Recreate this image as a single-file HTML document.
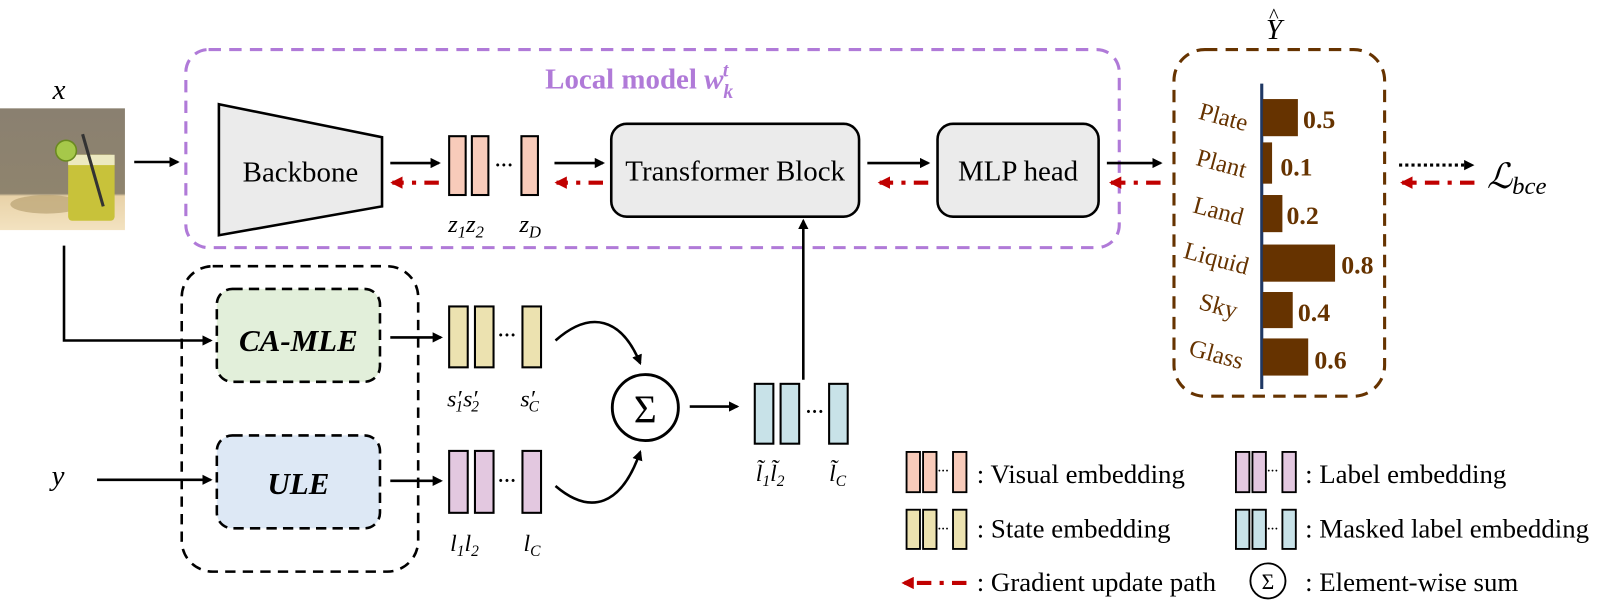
<!DOCTYPE html>
<html><head><meta charset="utf-8"><style>
html,body{margin:0;padding:0;background:#fff;}
svg{display:block;}
text{font-family:"Liberation Serif",serif;}
</style></head><body>
<svg width="1619" height="616" viewBox="0 0 1568 597" preserveAspectRatio="none" xmlns="http://www.w3.org/2000/svg">
<defs>
<marker id="ab" markerWidth="10" markerHeight="10" refX="8" refY="5" orient="auto" markerUnits="userSpaceOnUse"><path d="M0,0 L10,5 L0,10 z" fill="#000"/></marker>
<marker id="ar" markerWidth="12" markerHeight="12" refX="10" refY="6" orient="auto" markerUnits="userSpaceOnUse"><path d="M0,0 L12,6 L0,12 z" fill="#c00000"/></marker>
<linearGradient id="wall" x1="0" y1="0" x2="0" y2="1"><stop offset="0" stop-color="#8a8070"/><stop offset="0.7" stop-color="#8f846e"/><stop offset="0.72" stop-color="#e8d2a8"/><stop offset="1" stop-color="#f3e2c0"/></linearGradient>
</defs>

<!-- photo -->
<rect x="0" y="105" width="121" height="118" fill="url(#wall)"/>
<ellipse cx="45" cy="198" rx="35" ry="9" fill="#b9a273" opacity="0.7"/>
<rect x="66" y="150" width="45" height="64" rx="4" fill="#c8c23a"/>
<rect x="66" y="150" width="45" height="10" fill="#ece9c0"/>
<circle cx="64" cy="146" r="10" fill="#a6c84a" stroke="#6a8a20" stroke-width="1.5"/>
<line x1="80" y1="130" x2="100" y2="200" stroke="#333" stroke-width="3"/>
<text x="51" y="96" font-size="28" font-style="italic">x</text>

<!-- purple box -->
<rect x="180" y="48" width="904" height="192" rx="22" fill="none" stroke="#b07ad8" stroke-width="3" stroke-dasharray="12 8"/>
<text x="528" y="86" font-size="28" font-weight="bold" fill="#b07ad8">Local model <tspan font-style="italic">w</tspan><tspan font-style="italic" font-size="19" dy="9">k</tspan><tspan font-style="italic" font-size="19" dx="-10" dy="-21">t</tspan></text>

<!-- arrows top -->
<line x1="130" y1="157" x2="172" y2="157" stroke="#000" stroke-width="2.5" marker-end="url(#ab)"/>
<polygon points="212,101 370,133 370,200 212,228" fill="#ebebeb" stroke="#000" stroke-width="2.5"/>
<text x="291" y="176" font-size="28" text-anchor="middle">Backbone</text>

<g stroke-width="2.5">
<line x1="378" y1="158" x2="425" y2="158" stroke="#000" marker-end="url(#ab)"/>
<line x1="537" y1="158" x2="584" y2="158" stroke="#000" marker-end="url(#ab)"/>
<line x1="840" y1="158" x2="899" y2="158" stroke="#000" marker-end="url(#ab)"/>
<line x1="1072" y1="158" x2="1124" y2="158" stroke="#000" marker-end="url(#ab)"/>
<line x1="1355" y1="160" x2="1426" y2="160" stroke="#000" stroke-width="3" stroke-dasharray="3 3" marker-end="url(#ab)"/>
</g>
<g stroke="#c00000" stroke-width="4" stroke-dasharray="14 8 4 8">
<line x1="425" y1="177" x2="380" y2="177" marker-end="url(#ar)"/>
<line x1="584" y1="177" x2="539" y2="177" marker-end="url(#ar)"/>
<line x1="899" y1="177" x2="852" y2="177" marker-end="url(#ar)"/>
<line x1="1124" y1="177" x2="1076" y2="177" marker-end="url(#ar)"/>
<line x1="1428" y1="177" x2="1358" y2="177" marker-end="url(#ar)"/>
</g>

<!-- z embeddings -->
<g fill="#f8cbba" stroke="#000" stroke-width="2">
<rect x="435" y="132" width="16" height="57"/><rect x="457" y="132" width="16" height="57"/><rect x="505" y="132" width="16" height="57"/>
</g>
<text x="479" y="166" font-size="18" font-weight="bold">···</text>
<text x="434" y="225" font-size="24" font-style="italic">z<tspan font-size="16" dy="5">1</tspan><tspan dy="-5">z</tspan><tspan font-size="16" dy="5">2</tspan></text>
<text x="503" y="225" font-size="24" font-style="italic">z<tspan font-size="16" dy="5">D</tspan></text>

<rect x="592" y="120" width="240" height="90" rx="15" fill="#ebebeb" stroke="#000" stroke-width="2.5"/>
<text x="712" y="175" font-size="28" text-anchor="middle">Transformer Block</text>
<rect x="908" y="120" width="156" height="90" rx="15" fill="#ebebeb" stroke="#000" stroke-width="2.5"/>
<text x="986" y="175" font-size="28" text-anchor="middle">MLP head</text>

<line x1="778" y1="368" x2="778" y2="214" stroke="#000" stroke-width="2.5" marker-end="url(#ab)"/>

<!-- brown box -->
<rect x="1137" y="48" width="204" height="336" rx="30" fill="none" stroke="#663300" stroke-width="3" stroke-dasharray="12 8"/>
<text x="1226" y="38" font-size="28" font-style="italic">Y</text>
<text x="1229" y="22" font-size="20">^</text>
<line x1="1222" y1="81" x2="1222" y2="377" stroke="#1f3864" stroke-width="3"/>
<g fill="#663300">
<rect x="1223" y="96" width="34" height="36"/>
<rect x="1223" y="138" width="9" height="40"/>
<rect x="1223" y="189" width="19" height="36"/>
<rect x="1223" y="237" width="70" height="36"/>
<rect x="1223" y="283" width="29" height="35"/>
<rect x="1223" y="328" width="44" height="36"/>
</g>
<g fill="#663300" font-size="25" font-weight="bold">
<text x="1262" y="124">0.5</text><text x="1240" y="170">0.1</text><text x="1246" y="217">0.2</text>
<text x="1299" y="265">0.8</text><text x="1257" y="311">0.4</text><text x="1273" y="357">0.6</text>
</g>
<g fill="#663300" font-size="24" text-anchor="middle">
<text transform="translate(1183,121) rotate(15)">Plate</text>
<text transform="translate(1181,166) rotate(15)">Plant</text>
<text transform="translate(1178,212) rotate(15)">Land</text>
<text transform="translate(1176,258) rotate(15)">Liquid</text>
<text transform="translate(1178,304) rotate(15)">Sky</text>
<text transform="translate(1176,351) rotate(15)">Glass</text>
</g>
<text x="1440" y="182" font-size="34" font-style="italic">ℒ<tspan font-size="24" dy="6">bce</tspan></text>

<!-- lower -->
<polyline points="62,238 62,330 204,330" fill="none" stroke="#000" stroke-width="2.5" marker-end="url(#ab)"/>
<rect x="176" y="258" width="229" height="296" rx="30" fill="none" stroke="#000" stroke-width="2.5" stroke-dasharray="10 7"/>
<rect x="210" y="280" width="158" height="90" rx="15" fill="#e2efda" stroke="#000" stroke-width="2.5" stroke-dasharray="10 6"/>
<text x="289" y="340" font-size="30" font-weight="bold" font-style="italic" text-anchor="middle">CA-MLE</text>
<rect x="210" y="422" width="158" height="90" rx="15" fill="#dde8f5" stroke="#000" stroke-width="2.5" stroke-dasharray="10 6"/>
<text x="289" y="479" font-size="30" font-weight="bold" font-style="italic" text-anchor="middle">ULE</text>
<text x="50" y="470" font-size="28" font-style="italic">y</text>
<line x1="94" y1="465" x2="204" y2="465" stroke="#000" stroke-width="2.5" marker-end="url(#ab)"/>
<line x1="378" y1="327" x2="427" y2="327" stroke="#000" stroke-width="2.5" marker-end="url(#ab)"/>
<line x1="378" y1="466" x2="427" y2="466" stroke="#000" stroke-width="2.5" marker-end="url(#ab)"/>

<g fill="#ece2b0" stroke="#000" stroke-width="2">
<rect x="435" y="297" width="18" height="59"/><rect x="460" y="297" width="18" height="59"/><rect x="506" y="297" width="18" height="59"/>
</g>
<text x="482" y="331" font-size="18" font-weight="bold">···</text>
<text x="433" y="394" font-size="23" font-style="italic">s′<tspan font-size="15" dx="-6" dy="5">1</tspan><tspan dy="-5">s′</tspan><tspan font-size="15" dx="-6" dy="5">2</tspan></text>
<text x="504" y="394" font-size="23" font-style="italic">s′<tspan font-size="15" dx="-6" dy="5">C</tspan></text>

<g fill="#e3c8e0" stroke="#000" stroke-width="2">
<rect x="435" y="437" width="18" height="60"/><rect x="460" y="437" width="18" height="60"/><rect x="506" y="437" width="18" height="60"/>
</g>
<text x="482" y="472" font-size="18" font-weight="bold">···</text>
<text x="436" y="534" font-size="23" font-style="italic">l<tspan font-size="15" dy="5">1</tspan><tspan dy="-5">l</tspan><tspan font-size="15" dy="5">2</tspan></text>
<text x="507" y="534" font-size="23" font-style="italic">l<tspan font-size="15" dy="5">C</tspan></text>

<path d="M538,330 C572,300 602,308 620,352" fill="none" stroke="#000" stroke-width="2.5" marker-end="url(#ab)"/>
<path d="M538,471 C572,500 602,490 620,438" fill="none" stroke="#000" stroke-width="2.5" marker-end="url(#ab)"/>
<circle cx="625" cy="395" r="32" fill="#fff" stroke="#000" stroke-width="2.8"/>
<text x="625" y="409" font-size="38" text-anchor="middle" font-family="DejaVu Sans">Σ</text>
<line x1="668" y1="394" x2="714" y2="394" stroke="#000" stroke-width="2.5" marker-end="url(#ab)"/>

<g fill="#c8e2e8" stroke="#000" stroke-width="2">
<rect x="731" y="372" width="18" height="58"/><rect x="756" y="372" width="18" height="58"/><rect x="803" y="372" width="18" height="58"/>
</g>
<text x="780" y="405" font-size="18" font-weight="bold">···</text>
<text x="732" y="466" font-size="23" font-style="italic">l̃<tspan font-size="15" dy="5">1</tspan><tspan dy="-5">l̃</tspan><tspan font-size="15" dy="5">2</tspan></text>
<text x="803" y="466" font-size="23" font-style="italic">l̃<tspan font-size="15" dy="5">C</tspan></text>

<!-- legend -->
<g stroke="#000" stroke-width="1.8">
<g fill="#f8cbba"><rect x="878" y="438" width="13" height="39"/><rect x="894" y="438" width="13" height="39"/><rect x="923" y="438" width="13" height="39"/></g>
<g fill="#ece2b0"><rect x="878" y="494" width="13" height="38"/><rect x="894" y="494" width="13" height="38"/><rect x="923" y="494" width="13" height="38"/></g>
<g fill="#e3c8e0"><rect x="1197" y="438" width="13" height="39"/><rect x="1213" y="438" width="13" height="39"/><rect x="1242" y="438" width="13" height="39"/></g>
<g fill="#c8e2e8"><rect x="1197" y="494" width="13" height="38"/><rect x="1213" y="494" width="13" height="38"/><rect x="1242" y="494" width="13" height="38"/></g>
</g>
<g font-size="11" font-weight="bold"><text x="908" y="460">···</text><text x="908" y="516">···</text><text x="1227" y="460">···</text><text x="1227" y="516">···</text></g>
<g font-size="26">
<text x="946" y="468">: Visual embedding</text>
<text x="946" y="521">: State embedding</text>
<text x="1264" y="468">:  Label embedding</text>
<text x="1264" y="521">:  Masked label embedding</text>
<text x="946" y="573">: Gradient update path</text>
<text x="1264" y="573">:  Element-wise sum</text>
</g>
<line x1="936" y1="565" x2="875" y2="565" stroke="#c00000" stroke-width="4" stroke-dasharray="14 8 4 8" marker-end="url(#ar)"/>
<circle cx="1228" cy="563" r="17" fill="#fff" stroke="#000" stroke-width="1.8"/>
<text x="1228" y="571" font-size="21" text-anchor="middle" font-family="DejaVu Sans">Σ</text>
</svg>
</body></html>
